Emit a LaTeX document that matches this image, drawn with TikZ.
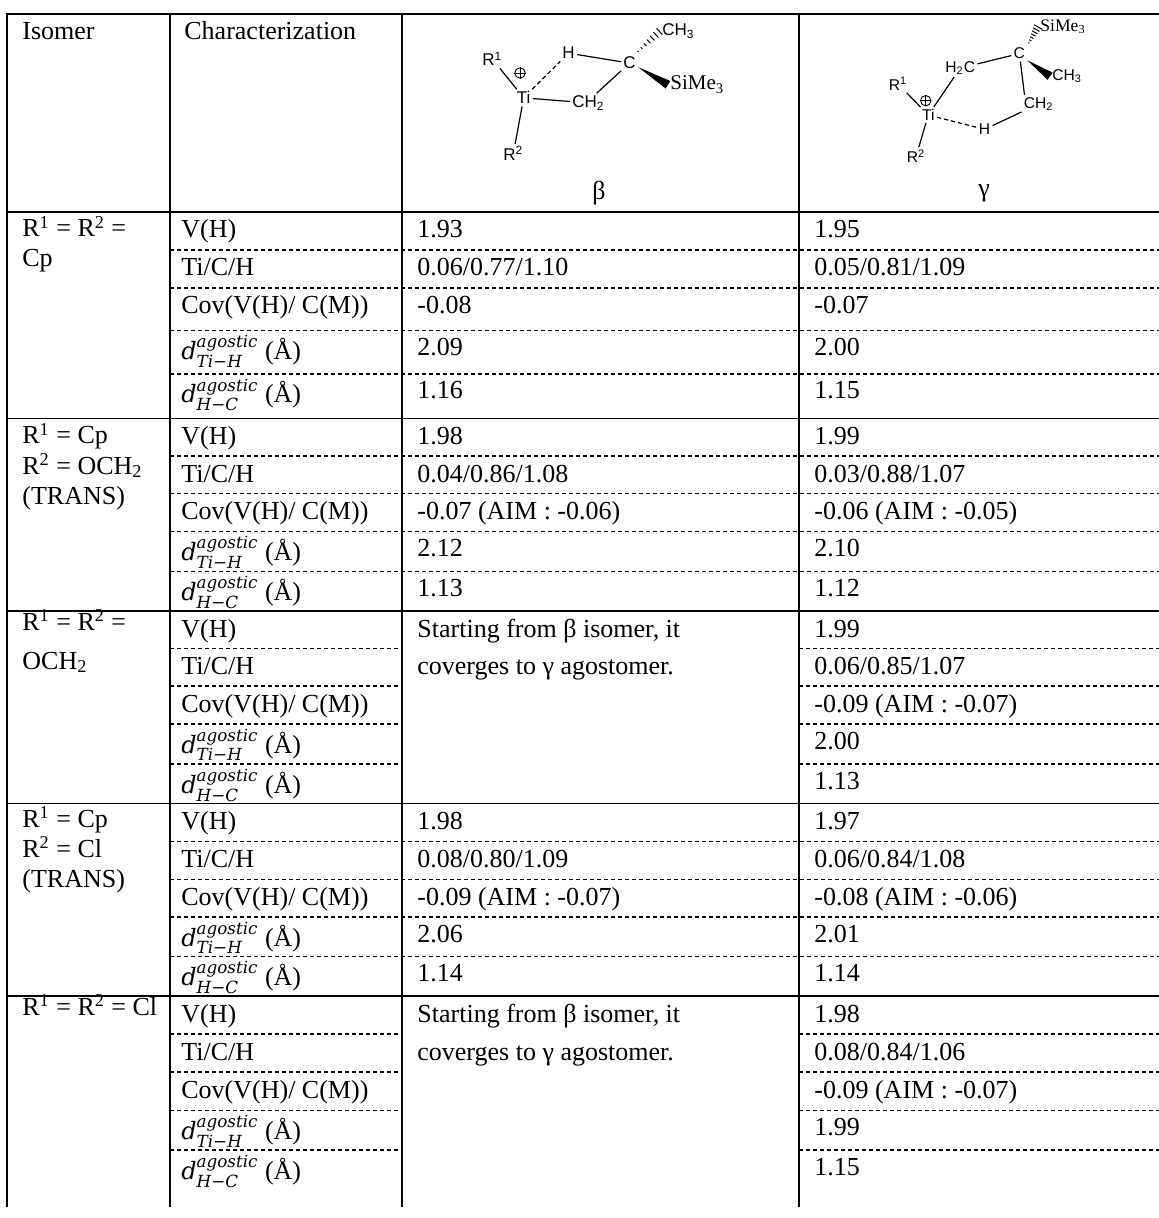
\documentclass[tikz,border=0pt]{standalone}
\usepackage{fontspec}
\usepackage{amsmath}
\setmainfont{Liberation Serif}
\newfontfamily\arialf{Liberation Sans}
\newfontfamily\dvs{DejaVu Serif}[Scale=0.92]
\usetikzlibrary{calc}
\newcommand\dlab[1]{$\text{\dvs\itshape d}^{\text{\dvs\itshape agostic}}_{\text{\dvs\itshape #1}}$\ (Å)}
\newcommand\hashw[2]{\foreach \t in {0.14,0.28,0.42,0.56,0.70,0.84,0.98}{\draw[line width=0.5pt] ($(#1)!\t!(#2)!{\t*2.2pt}!90:(#2)$) -- ($(#1)!\t!(#2)!{\t*2.2pt}!-90:(#2)$);}}
\newcommand\solidw[2]{\fill (#1) -- ($(#2)!2.2pt!90:(#1)$) -- ($(#2)!2.2pt!-90:(#1)$) -- cycle;}
\newcommand\plusmark[2]{\node[pluscirc] (#1) at (#2) {};
  \draw[line width=0.45pt] (#1.north) -- (#1.south); \draw[line width=0.45pt] (#1.west) -- (#1.east);}
\newcommand\charcol[6]{%
 \node[txt] (c#1a) at (181,#2) {V(H)};
 \node[txt] (c#1b) at (181,#3) {Ti/C/H};
 \node[txt] (c#1c) at (181,#4) {Cov(V(H)/ C(M))};
 \node[txt] (c#1d) at (181,#5) {\dlab{Ti−H}};
 \node[txt] (c#1e) at (181,#6) {\dlab{H−C}};}
\begin{document}
\begin{tikzpicture}[x=0.5pt,y=-0.5pt,
  txt/.style={anchor=base west,inner sep=0pt,font=\fontsize{13}{15}\selectfont},
  atom/.style={anchor=base west,inner sep=1pt,font=\arialf\fontsize{8.5}{9}\selectfont},
  gatom/.style={anchor=base west,inner sep=1pt,font=\arialf\fontsize{7.8}{9}\selectfont},
  tatom/.style={anchor=base west,inner sep=1pt,font=\fontsize{10.5}{11}\selectfont},
  gtatom/.style={anchor=base west,inner sep=1pt,font=\fontsize{8.8}{10}\selectfont},
  pluscirc/.style={circle,draw,line width=0.45pt,minimum size=5.2pt,inner sep=0pt},
  bond/.style={line width=0.6pt},
  hbond/.style={line width=0.6pt,dash pattern=on 2.2pt off 1.4pt},
  tframe/.style={line width=1pt},
  tgrid/.style={line width=0.65pt},
  tsep/.style={line width=0.8pt},
  tdash/.style={line width=0.75pt,dash pattern=on 2pt off 1.5pt}]
\fill[white] (0,0) rectangle (1159,1218);
\useasboundingbox (0,0) rectangle (1159,1218);
% ---------------- table rules
\draw[tframe] (7,14) -- (1159,14);
\draw[tframe] (7,212) -- (1159,212);
\foreach \yy in {418.5,611,803.5,996} \draw[tsep] (7,\yy) -- (1159,\yy);
\foreach \yy in {250,288,330.5,374,456,493.5,531.5,571.5,841.5,879.5,917,956.5}
  \draw[tdash] (170,\yy) -- (1159,\yy);
\foreach \yy in {648.5,686,724,764,1034,1072,1110.5,1150}
  {\draw[tdash] (170,\yy) -- (402,\yy); \draw[tdash] (799,\yy) -- (1159,\yy);}
\draw[tframe] (7,13.5) -- (7,1207);
\draw[tframe] (170,13.5) -- (170,1207);
\draw[tgrid] (402,13.5) -- (402,1207);
\draw[tgrid] (799,13.5) -- (799,1207);
% ---------------- header
\node[txt] (hiso) at (22,40) {Isomer};
\node[txt] (hchar) at (184,40) {Characterization};
% beta structure
\node[atom] (br1) at (480,66) {R\textsuperscript{1}};
\plusmark{bplus}{520,73}
\node[atom] (bti) at (514.5,104) {Ti};
\node[atom] (bh) at (560,59) {H};
\node[atom] (bc) at (621,69) {C};
\node[atom] (bch3) at (660,35.5) {CH\textsubscript{3}};
\node[tatom] (bsi) at (668,90) {SiMe\textsubscript{3}};
\node[atom] (bch2) at (570,107.5) {CH\textsubscript{2}};
\node[atom] (br2) at (501,160.5) {R\textsuperscript{2}};
\node[txt,anchor=base] (bbeta) at (599,200) {β};
\draw[bond] (br1) -- (bti);
\draw[hbond] (bti) -- (bh);
\draw[bond] (bh) -- (bc);
\draw[bond] (bti) -- (bch2);
\draw[bond] (bc) -- (bch2.50);
\draw[bond] (bti) -- (br2);
\hashw{bc.60}{bch3.west}
\solidw{bc.-25}{bsi.west}
% gamma structure
\node[gtatom] (gsi) at (1038,31.3) {SiMe\textsubscript{3}};
\node[gatom] (gc) at (1011.3,59) {C};
\node[gatom] (gch3) at (1050,80.5) {CH\textsubscript{3}};
\node[gatom] (gh2c) at (943,72.5) {H\textsubscript{2}C};
\node[gatom] (gch2) at (1021.5,108.3) {CH\textsubscript{2}};
\node[gatom] (gh) at (976.5,134.7) {H};
\node[gatom] (gti) at (919.7,120.7) {Ti};
\node[gatom] (gr1) at (886.5,90.5) {R\textsuperscript{1}};
\node[gatom] (gr2) at (904.5,163) {R\textsuperscript{2}};
\plusmark{gplus}{925.7,100.7}
\node[txt,anchor=base] (ggamma) at (984,197) {γ};
\draw[bond] (gr1) -- (gti);
\draw[bond] (gti) -- (gr2);
\draw[bond] (gti) -- (gh2c);
\draw[bond] (gh2c) -- (gc);
\draw[bond] (gc) -- ([xshift=1.5pt]gch2.north west);
\draw[bond] (gch2) -- (gh);
\draw[hbond] (gti) -- (gh);
\hashw{gc.45}{gsi.west}
\solidw{gc.-40}{gch3.west}
% ---------------- first column
\node[txt] (l1a) at (22,237) {R\textsuperscript{1} = R\textsuperscript{2} =};
\node[txt] (l1b) at (22,267) {Cp};
\node[txt] (l2a) at (22,444) {R\textsuperscript{1} = Cp};
\node[txt] (l2b) at (22,474) {R\textsuperscript{2} = OCH\textsubscript{2}};
\node[txt] (l2c) at (22,504) {(TRANS)};
\node[txt] (l3a) at (22,630) {R\textsuperscript{1} = R\textsuperscript{2} =};
\node[txt] (l3b) at (22,669) {OCH\textsubscript{2}};
\node[txt] (l4a) at (22,827) {R\textsuperscript{1} = Cp};
\node[txt] (l4b) at (22,857) {R\textsuperscript{2} = Cl};
\node[txt] (l4c) at (22,887) {(TRANS)};
\node[txt] (l5a) at (22,1015) {R\textsuperscript{1} = R\textsuperscript{2} = Cl};
% ---------------- characterization column
\charcol{1}{238}{276}{314}{359.5}{403}
\charcol{2}{444.5}{482}{519.5}{560.5}{600.5}
\charcol{3}{637}{674.5}{712}{753}{793}
\charcol{4}{829.5}{867.5}{905.5}{946}{985.5}
\charcol{5}{1022}{1060}{1098}{1139.5}{1179}
% ---------------- beta column
\node[txt] (b1a) at (417,238) {1.93};
\node[txt] (b1b) at (417,276) {0.06/0.77/1.10};
\node[txt] (b1c) at (417,314) {-0.08};
\node[txt] (b1d) at (417,355.5) {2.09};
\node[txt] (b1e) at (417,399) {1.16};
\node[txt] (b2a) at (417,444.5) {1.98};
\node[txt] (b2b) at (417,482) {0.04/0.86/1.08};
\node[txt] (b2c) at (417,519.5) {-0.07 (AIM : -0.06)};
\node[txt] (b2d) at (417,556.5) {2.12};
\node[txt] (b2e) at (417,596.5) {1.13};
\node[txt] (b3a) at (417,637) {Starting from β isomer, it};
\node[txt] (b3b) at (417,674.5) {coverges to γ agostomer.};
\node[txt] (b4a) at (417,829.5) {1.98};
\node[txt] (b4b) at (417,867.5) {0.08/0.80/1.09};
\node[txt] (b4c) at (417,905.5) {-0.09 (AIM : -0.07)};
\node[txt] (b4d) at (417,942) {2.06};
\node[txt] (b4e) at (417,981.5) {1.14};
\node[txt] (b5a) at (417,1022) {Starting from β isomer, it};
\node[txt] (b5b) at (417,1060) {coverges to γ agostomer.};
% ---------------- gamma column
\node[txt] (g1a) at (814,238) {1.95};
\node[txt] (g1b) at (814,276) {0.05/0.81/1.09};
\node[txt] (g1c) at (814,314) {-0.07};
\node[txt] (g1d) at (814,355.5) {2.00};
\node[txt] (g1e) at (814,399) {1.15};
\node[txt] (g2a) at (814,444.5) {1.99};
\node[txt] (g2b) at (814,482) {0.03/0.88/1.07};
\node[txt] (g2c) at (814,519.5) {-0.06 (AIM : -0.05)};
\node[txt] (g2d) at (814,556.5) {2.10};
\node[txt] (g2e) at (814,596.5) {1.12};
\node[txt] (g3a) at (814,637) {1.99};
\node[txt] (g3b) at (814,674.5) {0.06/0.85/1.07};
\node[txt] (g3c) at (814,712) {-0.09 (AIM : -0.07)};
\node[txt] (g3d) at (814,749) {2.00};
\node[txt] (g3e) at (814,789) {1.13};
\node[txt] (g4a) at (814,829.5) {1.97};
\node[txt] (g4b) at (814,867.5) {0.06/0.84/1.08};
\node[txt] (g4c) at (814,905.5) {-0.08 (AIM : -0.06)};
\node[txt] (g4d) at (814,942) {2.01};
\node[txt] (g4e) at (814,981.5) {1.14};
\node[txt] (g5a) at (814,1022) {1.98};
\node[txt] (g5b) at (814,1060) {0.08/0.84/1.06};
\node[txt] (g5c) at (814,1098) {-0.09 (AIM : -0.07)};
\node[txt] (g5d) at (814,1135.5) {1.99};
\node[txt] (g5e) at (814,1175) {1.15};
\end{tikzpicture}
\end{document}
